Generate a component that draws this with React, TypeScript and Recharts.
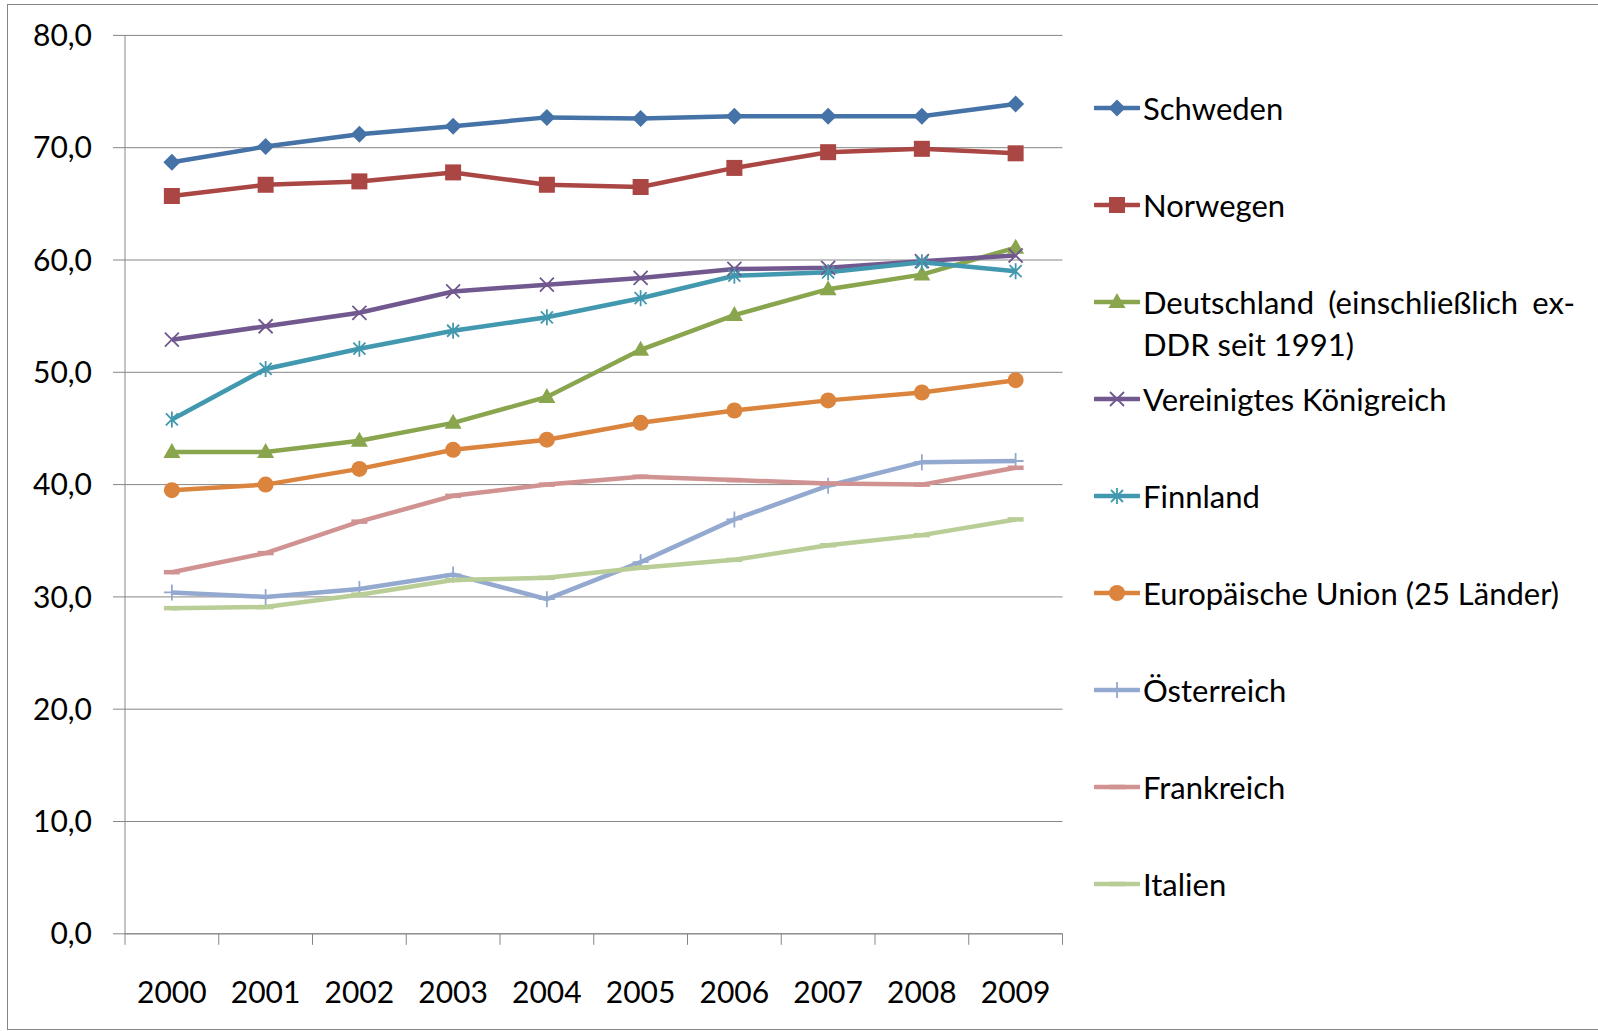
import { LineChart, Line, XAxis, YAxis, CartesianGrid } from "recharts";

const years = ["2000", "2001", "2002", "2003", "2004", "2005", "2006", "2007", "2008", "2009"];

const schweden = [68.7, 70.1, 71.2, 71.9, 72.7, 72.6, 72.8, 72.8, 72.8, 73.9];
const norwegen = [65.7, 66.7, 67.0, 67.8, 66.7, 66.5, 68.2, 69.6, 69.9, 69.5];
const deutschland = [42.9, 42.9, 43.9, 45.5, 47.8, 52.0, 55.1, 57.4, 58.7, 61.1];
const vereinigtesKoenigreich = [52.9, 54.1, 55.3, 57.2, 57.8, 58.4, 59.2, 59.3, 59.9, 60.4];
const finnland = [45.8, 50.3, 52.1, 53.7, 54.9, 56.6, 58.6, 58.9, 59.8, 59.0];
const eu25 = [39.5, 40.0, 41.4, 43.1, 44.0, 45.5, 46.6, 47.5, 48.2, 49.3];
const oesterreich = [30.4, 30.0, 30.7, 32.0, 29.8, 33.1, 36.9, 39.9, 42.0, 42.1];
const frankreich = [32.2, 33.9, 36.7, 39.0, 40.0, 40.7, 40.4, 40.1, 40.0, 41.5];
const italien = [29.0, 29.1, 30.2, 31.5, 31.7, 32.6, 33.3, 34.6, 35.5, 36.9];

const yTicks = [0, 10, 20, 30, 40, 50, 60, 70, 80];

type MarkerKind = "diamond" | "square" | "triangle" | "x" | "star" | "circle" | "plus" | "dash";

const series: { key: string; name: string; color: string; marker: MarkerKind; values: number[] }[] = [
  { key: "schweden", name: "Schweden", color: "#4572A7", marker: "diamond", values: schweden },
  { key: "norwegen", name: "Norwegen", color: "#AA4643", marker: "square", values: norwegen },
  { key: "deutschland", name: "Deutschland (einschließlich ex-DDR seit 1991)", color: "#89A54E", marker: "triangle", values: deutschland },
  { key: "vk", name: "Vereinigtes Königreich", color: "#71588F", marker: "x", values: vereinigtesKoenigreich },
  { key: "finnland", name: "Finnland", color: "#4198AF", marker: "star", values: finnland },
  { key: "eu", name: "Europäische Union (25 Länder)", color: "#DB843D", marker: "circle", values: eu25 },
  { key: "oesterreich", name: "Österreich", color: "#93A9CF", marker: "plus", values: oesterreich },
  { key: "frankreich", name: "Frankreich", color: "#D19392", marker: "dash", values: frankreich },
  { key: "italien", name: "Italien", color: "#B9CD96", marker: "dash", values: italien },
];

const data = years.map((year, i) => {
  const row: Record<string, string | number> = { year };
  for (const s of series) row[s.key] = s.values[i];
  return row;
});

const AXIS_GRAY = "#868686";
const FONT = "Lato, 'Open Sans', sans-serif";
const PLOT_LEFT = 125;
const PLOT_RIGHT = 1062.5;
const HALF_BAND = (PLOT_RIGHT - PLOT_LEFT) / years.length / 2;

function Marker({ kind, cx, cy, color }: { kind: MarkerKind; cx?: number; cy?: number; color: string }) {
  if (cx == null || cy == null) return null;
  switch (kind) {
    case "diamond":
      return <polygon points={`${cx},${cy - 8.5} ${cx + 8.5},${cy} ${cx},${cy + 8.5} ${cx - 8.5},${cy}`} fill={color} />;
    case "square":
      return <rect x={cx - 8} y={cy - 8} width={16} height={16} fill={color} />;
    case "triangle":
      return <polygon points={`${cx},${cy - 9} ${cx + 8.5},${cy + 6} ${cx - 8.5},${cy + 6}`} fill={color} />;
    case "x":
      return (
        <path
          d={`M${cx - 7},${cy - 7}L${cx + 7},${cy + 7}M${cx + 7},${cy - 7}L${cx - 7},${cy + 7}`}
          stroke={color}
          strokeWidth={1.8}
          fill="none"
        />
      );
    case "star":
      return (
        <path
          d={`M${cx - 6},${cy - 6}L${cx + 6},${cy + 6}M${cx + 6},${cy - 6}L${cx - 6},${cy + 6}M${cx},${cy - 8}L${cx},${cy + 8}`}
          stroke={color}
          strokeWidth={1.8}
          fill="none"
        />
      );
    case "circle":
      return <circle cx={cx} cy={cy} r={8} fill={color} />;
    case "plus":
      return (
        <path
          d={`M${cx},${cy - 8}L${cx},${cy + 8}M${cx - 8},${cy}L${cx + 8},${cy}`}
          stroke={color}
          strokeWidth={1.8}
          fill="none"
        />
      );
    case "dash":
      return <rect x={cx - 8} y={cy - 2.25} width={16} height={4.5} fill={color} />;
  }
}

function XTick(props: any) {
  const { x, y, payload, index } = props;
  return (
    <g>
      <line x1={x - HALF_BAND} x2={x - HALF_BAND} y1={y} y2={y + 11} stroke={AXIS_GRAY} />
      {index === years.length - 1 && (
        <line x1={x + HALF_BAND} x2={x + HALF_BAND} y1={y} y2={y + 11} stroke={AXIS_GRAY} />
      )}
      <text x={x} y={y + 57} textAnchor="middle" dominantBaseline="central" fill="#000" fontSize={30} fontFamily={FONT}>
        {payload.value}
      </text>
    </g>
  );
}

function LegendList() {
  return (
    <div style={{ position: "absolute", left: 1094, top: 87, width: 500, fontFamily: FONT, fontSize: 31, color: "#000" }}>
      {series.map((s) => (
        <div key={s.key} style={{ height: 97, display: "flex", alignItems: "flex-start" }}>
          <svg width={46} height={42} style={{ flex: "none" }}>
            <line x1={1} x2={45} y1={21} y2={21} stroke={s.color} strokeWidth={4.5} strokeLinecap="round" />
            <Marker kind={s.marker} cx={23} cy={21} color={s.color} />
          </svg>
          <div style={{ marginLeft: 3, lineHeight: "42px", width: 432, whiteSpace: "normal", textAlign: "justify" }}>
            {s.name}
          </div>
        </div>
      ))}
    </div>
  );
}

export default function App() {
  return (
    <div
      style={{
        position: "absolute",
        left: 0,
        top: 0,
        width: 1598,
        height: 1031,
        background: "#fff",
        overflow: "hidden",
        fontFamily: FONT,
      }}
    >
      <div
        style={{
          position: "absolute",
          left: 7,
          top: 4,
          width: 1640,
          height: 1026,
          border: `1px solid ${AXIS_GRAY}`,
          boxSizing: "border-box",
        }}
      />
      <LineChart
        width={1598}
        height={1031}
        data={data}
        margin={{ top: 35.4, right: 1598 - PLOT_RIGHT, bottom: 37.2, left: 25 }}
      >
        <CartesianGrid vertical={false} stroke={AXIS_GRAY} />
        <XAxis
          dataKey="year"
          height={60}
          padding={{ left: HALF_BAND, right: HALF_BAND }}
          axisLine={{ stroke: AXIS_GRAY }}
          tickLine={false}
          tickSize={0}
          tickMargin={0}
          interval={0}
          tick={<XTick />}
        />
        <YAxis
          width={100}
          domain={[0, 80]}
          ticks={yTicks}
          interval={0}
          axisLine={{ stroke: AXIS_GRAY }}
          tickLine={{ stroke: AXIS_GRAY }}
          tickSize={12}
          tickMargin={21}
          tick={{ fill: "#000", fontSize: 30, fontFamily: FONT }}
          tickFormatter={(v: number) => v.toFixed(1).replace(".", ",")}
        />
        {series.map((s) => (
          <Line
            key={s.key}
            dataKey={s.key}
            name={s.name}
            stroke={s.color}
            strokeWidth={4.5}
            isAnimationActive={false}
            activeDot={false}
            dot={(p: any) => <Marker key={`${s.key}-${p.index}`} kind={s.marker} cx={p.cx} cy={p.cy} color={s.color} />}
          />
        ))}
      </LineChart>
      <LegendList />
    </div>
  );
}
